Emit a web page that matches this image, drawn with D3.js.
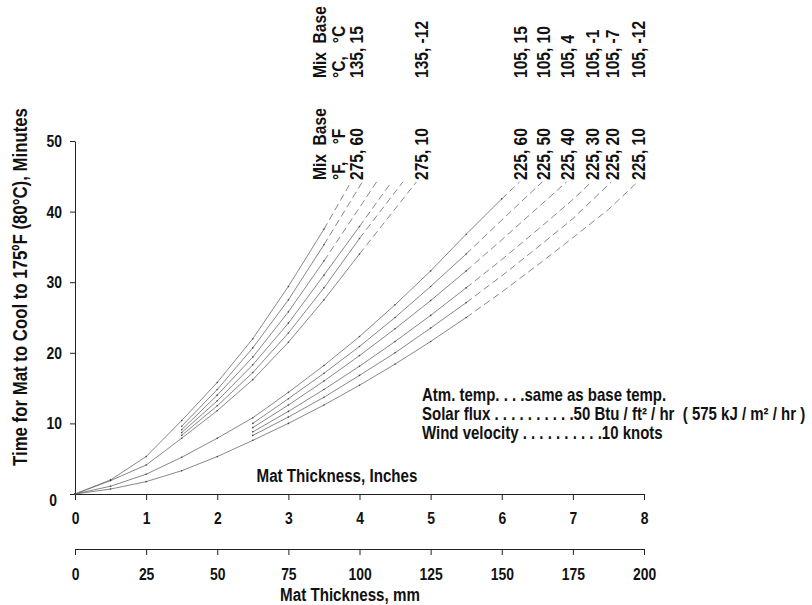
<!DOCTYPE html>
<html>
<head>
<meta charset="utf-8">
<script src="https://cdn.jsdelivr.net/npm/d3@7"></script>
<style>
  body { margin: 0; background: #fff; }
  svg { display: block; }
  text { font-family: 'Liberation Sans', Arial, sans-serif; font-weight: bold; fill: #111; }
</style>
</head>
<body>
<div id="chart"></div>
<script>

// curves: [thickness in inches, minutes]
// mix 275 F (135 C) family, base temps 60 .. 10 F
var f275b60 = [[0, 0], [0.5, 2.0], [1, 5.3], [1.5, 10.4], [2, 15.8], [2.5, 22.0], [3, 29.4], [3.5, 37.5], [3.88, 44.2]];
var f275b50 = [[1.5, 9.6], [2, 14.8], [2.5, 20.7], [3, 27.5], [3.5, 35.3], [4.04, 44.2]];
var f275b40 = [[1.5, 9.1], [2, 14.0], [2.5, 19.4], [3, 25.8], [3.5, 33.0], [4.24, 44.2]];
var f275b30 = [[1.5, 8.7], [2, 13.2], [2.5, 18.3], [3, 24.2], [3.5, 31.0], [4, 37.9], [4.45, 44.2]];
var f275b20 = [[1.5, 8.3], [2, 12.5], [2.5, 17.2], [3, 22.8], [3.5, 29.2], [4, 36.2], [4.61, 44.2]];
var f275b10 = [[0, 0], [0.5, 1.9], [1, 4.1], [1.5, 7.9], [2, 11.8], [2.5, 16.2], [3, 21.5], [3.5, 27.5], [4, 34.0], [4.8, 44.2]];

// mix 225 F (105 C) family
var f225b60 = [[0, 0], [0.5, 1.1], [1, 2.8], [1.5, 5.2], [2, 7.9], [2.5, 10.8], [3, 14.4], [3.5, 18.2], [4, 22.3], [4.5, 26.8], [5, 31.6], [5.5, 36.8], [6, 41.8], [6.25, 44.2]];
var f225b50 = [[2.5, 10.0], [3, 13.5], [3.5, 17.1], [4, 20.9], [4.5, 25.0], [5, 29.4], [5.5, 34.0], [6, 38.8], [6.57, 44.2]];
var f225b40 = [[2.5, 9.4], [3, 12.6], [3.5, 16.0], [4, 19.6], [4.5, 23.4], [5, 27.4], [5.5, 31.6], [6, 36.0], [6.5, 40.5], [6.91, 44.2]];
var f225b30 = [[2.5, 8.8], [3, 11.7], [3.5, 14.8], [4, 18.1], [4.5, 21.6], [5, 25.3], [5.5, 29.2], [6, 33.2], [6.5, 37.4], [7, 41.7], [7.26, 44.2]];
var f225b20 = [[2.5, 8.3], [3, 10.9], [3.5, 13.7], [4, 16.8], [4.5, 20.0], [5, 23.5], [5.5, 27.1], [6, 30.9], [6.5, 34.9], [7, 39.0], [7.54, 44.2]];
var f225b10 = [[0, 0], [0.5, 0.7], [1, 1.75], [1.5, 3.3], [2, 5.3], [2.5, 7.6], [3, 10.0], [3.5, 12.6], [4, 15.4], [4.5, 18.4], [5, 21.6], [5.5, 25.0], [6, 28.6], [6.5, 32.4], [7, 36.3], [7.5, 40.3], [7.91, 44.2]];

// thickness where each curve turns dashed
var dashFrom = [3.5, 3.5, 3.5, 4, 4, 4, 6, 5.5, 5.5, 5.5, 5.5, 5.5];

// labels over the curve ends
var labelsF = ['275, 60', '275, 10', '225, 60', '225, 50', '225, 40', '225, 30', '225, 20', '225, 10'];
var labelsC = ['135, 15', '135, -12', '105, 15', '105, 10', '105, 4', '105, -1', '105, -7', '105, -12'];
var labelCurve = [0, 5, 6, 7, 8, 9, 10, 11];

var inchTicks = [0, 1, 2, 3, 4, 5, 6, 7, 8];
var mmTicks = [0, 25, 50, 75, 100, 125, 150, 175, 200];
var minuteTicks = [0, 10, 20, 30, 40, 50];

var notes = [
    'Atm. temp. . . .same as base temp.',
    'Solar flux . . . . . . . . . .50 Btu / ft\u00B2 / hr  ( 575 kJ / m\u00B2 / hr )',
    'Wind velocity . . . . . . . . . .10 knots'
];

var curves = [f275b60, f275b50, f275b40, f275b30, f275b20, f275b10,
    f225b60, f225b50, f225b40, f225b30, f225b20, f225b10];


var width = 812,
    height = 605,
    squeeze = 0.82;   // narrow face: arial squeezed sideways

var svg = d3.select('#chart')
    .append('svg')
    .attr('width', width)
    .attr('height', height);

var x = d3.scaleLinear().domain([0, 8]).range([75, 644]),
    mm = d3.scaleLinear().domain([0, 200]).range([75, 644]),
    y = d3.scaleLinear().domain([0, 50]).range([494, 141]);

var line = d3.line()
    .x(function(d) { return x(d[0]); })
    .y(function(d) { return y(d[1]); });


// text placed at px,py, optionally turned, squeezed along its run
function label(px, py, txt, size, opts) {
    opts = opts || {};
    var t = svg.append('text')
        .attr('transform', 'translate(' + px + ',' + py + ')' +
            (opts.rotate ? ' rotate(' + opts.rotate + ')' : '') +
            ' scale(' + squeeze + ',1)')
        .attr('text-anchor', opts.anchor || 'start')
        .style('font-size', size + 'px')
        .style('white-space', 'pre')
        .text(txt);
    if (opts.dy) t.attr('dy', opts.dy);
    return t;
}


// axes
function styleAxis(g) {
    g.selectAll('path, line').attr('stroke', '#222').attr('stroke-width', 1);
    g.selectAll('text')
        .style('font-family', "'Liberation Sans', Arial, sans-serif")
        .style('font-weight', 'bold')
        .style('font-size', '17px')
        .attr('fill', '#111')
        .attr('transform', 'scale(' + squeeze + ',1)');
}

var yAxis = svg.append('g')
    .attr('transform', 'translate(75,0)')
    .call(d3.axisLeft(y).tickValues(minuteTicks).tickSize(5).tickSizeOuter(0).tickPadding(8))
    .call(styleAxis);

yAxis.selectAll('.tick text')
    .attr('x', -13 / squeeze);

// the zero sits a little low and left on the original
yAxis.selectAll('.tick text')
    .filter(function(d) { return d === 0; })
    .attr('x', -18 / squeeze)
    .attr('y', 6);

svg.append('g')
    .attr('transform', 'translate(0,494)')
    .call(d3.axisBottom(x).tickValues(inchTicks).tickSize(6).tickSizeOuter(0).tickPadding(12))
    .call(styleAxis);

svg.append('g')
    .attr('transform', 'translate(0,549)')
    .call(d3.axisBottom(mm).tickValues(mmTicks).tickSize(6).tickSizeOuter(0).tickPadding(13))
    .call(styleAxis);


// curves: solid part, then dashed extension
var curveG = svg.append('g')
    .attr('fill', 'none')
    .attr('stroke', '#6a6a6a')
    .attr('stroke-width', 0.8);

var dotG = svg.append('g').attr('fill', '#444');

curves.forEach(function(pts, i) {
    var solid = pts.filter(function(d) { return d[0] <= dashFrom[i]; }),
        dashed = pts.filter(function(d) { return d[0] >= dashFrom[i]; });

    curveG.append('path').attr('d', line(solid));
    if (dashed.length > 1) {
        curveG.append('path')
            .attr('d', line(dashed))
            .attr('stroke-dasharray', '7,4');
    }

    dotG.selectAll(null)
        .data(solid)
        .enter()
        .append('circle')
        .attr('cx', function(d) { return x(d[0]); })
        .attr('cy', function(d) { return y(d[1]); })
        .attr('r', 0.8);
});


// rotated labels over the curve ends
labelCurve.forEach(function(ci, i) {
    var end = curves[ci][curves[ci].length - 1],
        px = x(end[0]) + (ci < 6 ? 5 : 1);
    label(px, 180, labelsF[i], 19, { rotate: -90, dy: '0.35em' });
    label(px, 78, labelsC[i], 19, { rotate: -90, dy: '0.35em' });
});

var firstX = x(f275b60[f275b60.length - 1][0]) + 5;
label(firstX - 37, 180, 'Mix  Base', 19, { rotate: -90, dy: '0.35em' });
label(firstX - 18, 180, '\u00B0F,    \u00B0F', 19, { rotate: -90, dy: '0.35em' });
label(firstX - 37, 78, 'Mix  Base', 19, { rotate: -90, dy: '0.35em' });
label(firstX - 18, 78, '\u00B0C,   \u00B0C', 19, { rotate: -90, dy: '0.35em' });


// titles and notes
label(27, 287, 'Time for Mat to Cool to 175\u00BAF (80\u00B0C), Minutes', 20.5,
    { rotate: -90, anchor: 'middle' });
label(337, 482, 'Mat Thickness, Inches', 18.5, { anchor: 'middle' });
label(350, 601, 'Mat Thickness, mm', 18.5, { anchor: 'middle' });

notes.forEach(function(d, i) {
    label(422, 401 + i * 19, d, 18.3);
});

</script>
</body>
</html>
